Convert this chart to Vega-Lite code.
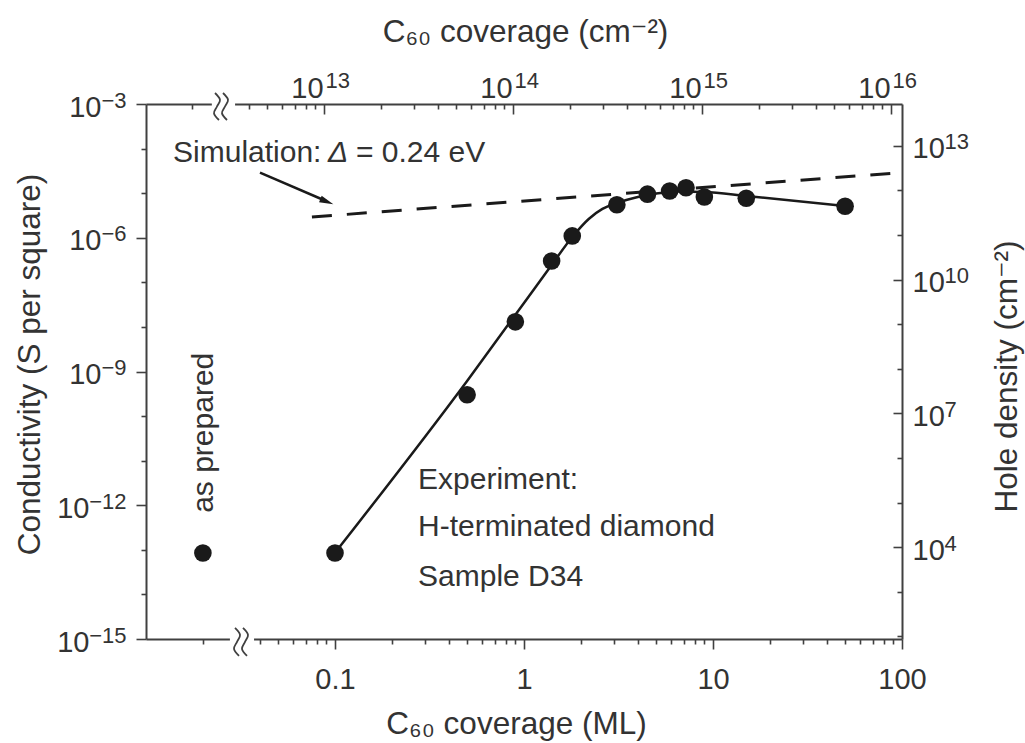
{
  "$schema": "https://vega.github.io/schema/vega-lite/v6.json",
  "width": 756,
  "height": 535,
  "autosize": {"type": "none"},
  "padding": {"left": 146, "top": 104, "right": 123, "bottom": 104},
  "background": "white",
  "config": {
    "view": {"stroke": null},
    "axis": {
      "grid": false,
      "zindex": 0,
      "domainColor": "#404040",
      "domainWidth": 2,
      "tickColor": "#404040",
      "tickWidth": 1.6,
      "labelFont": "Liberation Sans, DejaVu Sans, sans-serif",
      "labelFontSize": 29,
      "labelColor": "#333333",
      "titleFont": "Liberation Sans, DejaVu Sans, sans-serif",
      "titleFontSize": 31.5,
      "titleFontWeight": "normal",
      "titleColor": "#333333",
      "labelFlush": false,
      "labelOverlap": false,
      "labelBound": false
    },
    "text": {"font": "Liberation Sans, DejaVu Sans, sans-serif", "fontSize": 30, "color": "#333333"}
  },
  "datasets": {
    "pts": [
      {"ml": 0.02, "sigma": 8.5e-14},
      {"ml": 0.1, "sigma": 8.5e-14},
      {"ml": 0.5, "sigma": 3.0e-10},
      {"ml": 0.9, "sigma": 1.3e-8},
      {"ml": 1.4, "sigma": 3.0e-7},
      {"ml": 1.8, "sigma": 1.1e-6},
      {"ml": 3.1, "sigma": 5.5e-6},
      {"ml": 4.5, "sigma": 9.5e-6},
      {"ml": 5.9, "sigma": 1.12e-5},
      {"ml": 7.2, "sigma": 1.32e-5},
      {"ml": 9.0, "sigma": 8.2e-6},
      {"ml": 15, "sigma": 7.7e-6},
      {"ml": 50, "sigma": 5.1e-6}
    ],
    "fit": [
      {"ml": 0.1, "sigma": 8.57e-14},
      {"ml": 0.5, "sigma": 6.15e-10},
      {"ml": 1.0, "sigma": 3.45e-8},
      {"ml": 1.4, "sigma": 2.45e-7},
      {"ml": 1.8, "sigma": 1.04e-6},
      {"ml": 2.2, "sigma": 2.64e-6},
      {"ml": 2.6, "sigma": 4.43e-6},
      {"ml": 3.1, "sigma": 6.0e-6},
      {"ml": 4.0, "sigma": 8.2e-6},
      {"ml": 5.0, "sigma": 9.8e-6},
      {"ml": 6.5, "sigma": 1.09e-5},
      {"ml": 9.0, "sigma": 1.06e-5},
      {"ml": 15, "sigma": 8.65e-6},
      {"ml": 50, "sigma": 5.16e-6}
    ],
    "sim": [
      {"ml": 0.0755, "sigma": 2.92e-6},
      {"ml": 100, "sigma": 2.9e-5}
    ],
    "arrow": [
      {"ml": 0.0401, "sigma": 2.88e-5, "ml2": 0.0896, "sigma2": 6.68e-6}
    ],
    "arrowhead": [
      {"ml": 0.098, "sigma": 5.64e-6}
    ],
    "notes": [
      {"ml": 0.0139, "sigma": 5.0e-5, "t": "Simulation:"},
      {"ml": 0.1291, "sigma": 5.0e-5, "t": "= 0.24 eV"},
      {"ml": 0.275, "sigma": 2.33e-12, "t": "Experiment:"},
      {"ml": 0.275, "sigma": 2.06e-13, "t": "H-terminated diamond"},
      {"ml": 0.275, "sigma": 1.56e-14, "t": "Sample D34"}
    ],
    "delta": [
      {"ml": 0.0918, "sigma": 5.0e-5, "t": "Δ"}
    ],
    "asprep": [
      {"ml": 0.0226, "sigma": 6.76e-13, "t": "as prepared"}
    ],
    "brk": [
      {"ml": 0.0278, "ml2": 0.0373, "sigma": 6.31e-16, "sigma2": 1.259e-15},
      {"ml": 0.0223, "ml2": 0.0296, "sigma": 6.31e-4, "sigma2": 1.259e-3}
    ],
    "sq": [
      {"g": "b1", "i": 0, "ml": 0.02958, "sigma": 1.782e-15},
      {"g": "b1", "i": 1, "ml": 0.03144, "sigma": 1.242e-15},
      {"g": "b1", "i": 2, "ml": 0.03031, "sigma": 8.65e-16},
      {"g": "b1", "i": 3, "ml": 0.02922, "sigma": 6.03e-16},
      {"g": "b1", "i": 4, "ml": 0.03106, "sigma": 4.20e-16},
      {"g": "b2", "i": 0, "ml": 0.03260, "sigma": 1.782e-15},
      {"g": "b2", "i": 1, "ml": 0.03465, "sigma": 1.242e-15},
      {"g": "b2", "i": 2, "ml": 0.03341, "sigma": 8.65e-16},
      {"g": "b2", "i": 3, "ml": 0.03220, "sigma": 6.03e-16},
      {"g": "b2", "i": 4, "ml": 0.03423, "sigma": 4.20e-16},
      {"g": "t1", "i": 0, "ml": 0.02318, "sigma": 1.764e-3},
      {"g": "t1", "i": 1, "ml": 0.02463, "sigma": 1.245e-3},
      {"g": "t1", "i": 2, "ml": 0.02375, "sigma": 8.79e-4},
      {"g": "t1", "i": 3, "ml": 0.02290, "sigma": 6.20e-4},
      {"g": "t1", "i": 4, "ml": 0.02433, "sigma": 4.38e-4},
      {"g": "t2", "i": 0, "ml": 0.02555, "sigma": 1.764e-3},
      {"g": "t2", "i": 1, "ml": 0.02716, "sigma": 1.245e-3},
      {"g": "t2", "i": 2, "ml": 0.02618, "sigma": 8.79e-4},
      {"g": "t2", "i": 3, "ml": 0.02524, "sigma": 6.20e-4},
      {"g": "t2", "i": 4, "ml": 0.02683, "sigma": 4.38e-4}
    ],
    "topsc": [
      {"cm": 1.143e12},
      {"cm": 1.143e16}
    ],
    "rightsc": [
      {"holes": 87.1},
      {"holes": 8.71e13}
    ]
  },
  "layer": [
    {
      "resolve": {"axis": {"x": "independent", "y": "independent"}},
      "encoding": {
        "x": {"field": "ml", "type": "quantitative", "scale": {"type": "log", "domain": [0.01, 100], "nice": false}, "axis": null},
        "y": {"field": "sigma", "type": "quantitative", "scale": {"type": "log", "domain": [1e-15, 1e-3], "nice": false}, "axis": null}
      },
      "layer": [
        {
          "data": {"name": "pts"},
          "mark": {"type": "point", "opacity": 0},
          "encoding": {
            "x": {"field": "ml", "type": "quantitative", "scale": {"type": "log", "domain": [0.01, 100], "nice": false},
              "axis": {"orient": "bottom", "values": [0.1, 1, 10, 100], "labelExpr": "datum.value < 0.5 ? '0.1' : format(datum.value, 'd')",
                "tickSize": 10, "labelPadding": 39, "labelBaseline": "alphabetic",
                "title": "C₆₀ coverage (ML)", "titleX": 370, "titleY": 94, "titleBaseline": "alphabetic"}},
            "y": {"field": "sigma", "type": "quantitative", "scale": {"type": "log", "domain": [1e-15, 1e-3], "nice": false},
              "axis": {"orient": "left", "values": [1e-15, 1e-12, 1e-9, 1e-6, 1e-3], "labels": false,
                "tickSize": 10,
                "title": "Conductivity (S per square)", "titleAngle": 270, "titleX": -107, "titleY": 260, "titleBaseline": "alphabetic"}}
          }
        },
        {
          "data": {"name": "pts"},
          "mark": {"type": "point", "opacity": 0},
          "encoding": {
            "x": {"field": "ml", "type": "quantitative", "scale": {"type": "log", "domain": [0.01, 100], "nice": false},
              "axis": {"orient": "bottom", "values": [0.02, 0.03, 0.04, 0.05, 0.06, 0.07, 0.08, 0.09, 0.2, 0.3, 0.4, 0.5, 0.6, 0.7, 0.8, 0.9, 2, 3, 4, 5, 6, 7, 8, 9, 20, 30, 40, 50, 60, 70, 80, 90],
                "labels": false, "domain": false, "tickSize": 5, "title": null}},
            "y": {"field": "sigma", "type": "quantitative", "scale": {"type": "log", "domain": [1e-15, 1e-3], "nice": false},
              "axis": {"orient": "left", "values": [1e-14, 1e-13, 1e-11, 1e-10, 1e-8, 1e-7, 1e-5, 1e-4],
                "labels": false, "domain": false, "tickSize": 5, "title": null}}
          }
        },
        {
          "data": {"name": "pts"},
          "mark": {"type": "point", "opacity": 0},
          "encoding": {
            "y": {"field": "sigma", "type": "quantitative", "scale": {"type": "log", "domain": [1e-15, 1e-3], "nice": false},
              "axis": {"orient": "left", "values": [1e-9, 1e-6, 1e-3], "labelExpr": "'10'",
                "tickSize": 10, "tickOpacity": 0, "labelPadding": 35, "labelBaseline": "alphabetic", "labelOffset": 12,
                "domain": false, "title": null}}
          }
        },
        {
          "data": {"name": "pts"},
          "mark": {"type": "point", "opacity": 0},
          "encoding": {
            "y": {"field": "sigma", "type": "quantitative", "scale": {"type": "log", "domain": [1e-15, 1e-3], "nice": false},
              "axis": {"orient": "left", "values": [1e-15, 1e-12], "labelExpr": "'10'",
                "tickSize": 10, "tickOpacity": 0, "labelPadding": 47, "labelBaseline": "alphabetic", "labelOffset": 12,
                "domain": false, "title": null}}
          }
        },
        {
          "data": {"name": "pts"},
          "mark": {"type": "point", "opacity": 0},
          "encoding": {
            "y": {"field": "sigma", "type": "quantitative", "scale": {"type": "log", "domain": [1e-15, 1e-3], "nice": false},
              "axis": {"orient": "left", "values": [1e-15, 1e-12, 1e-9, 1e-6, 1e-3], "labelExpr": "'−' + (-round(log(datum.value)/LN10))",
                "labelFontSize": 22,
                "tickSize": 10, "tickOpacity": 0, "labelPadding": 10, "labelBaseline": "alphabetic", "labelOffset": 3,
                "domain": false, "title": null}}
          }
        },
        {
          "data": {"name": "fit"},
          "mark": {"type": "line", "color": "#1a1a1a", "strokeWidth": 2.5, "interpolate": "monotone"}
        },
        {
          "data": {"name": "sim"},
          "mark": {"type": "line", "color": "#1a1a1a", "strokeWidth": 3, "strokeDash": [20, 15]}
        },
        {
          "data": {"name": "arrow"},
          "mark": {"type": "rule", "color": "#1a1a1a", "strokeWidth": 2.5},
          "encoding": {
            "x2": {"field": "ml2"},
            "y2": {"field": "sigma2"}
          }
        },
        {
          "data": {"name": "arrowhead"},
          "mark": {"type": "point", "shape": "M0,0L-2,-0.5L-2,0.5Z", "size": 196, "filled": true, "color": "#1a1a1a", "opacity": 1, "angle": 22}
        },
        {
          "data": {"name": "pts"},
          "mark": {"type": "circle", "size": 310, "color": "#1a1a1a", "opacity": 1}
        },
        {
          "data": {"name": "notes"},
          "mark": {"type": "text", "align": "left", "baseline": "alphabetic"},
          "encoding": {"text": {"field": "t"}}
        },
        {
          "data": {"name": "delta"},
          "mark": {"type": "text", "align": "left", "baseline": "alphabetic", "fontStyle": "italic"},
          "encoding": {"text": {"field": "t"}}
        },
        {
          "data": {"name": "asprep"},
          "mark": {"type": "text", "align": "left", "baseline": "alphabetic", "angle": 270},
          "encoding": {"text": {"field": "t"}}
        },
        {
          "data": {"name": "brk"},
          "mark": {"type": "rect", "color": "white", "opacity": 1},
          "encoding": {
            "x2": {"field": "ml2"},
            "y2": {"field": "sigma2"}
          }
        },
        {
          "data": {"name": "sq"},
          "mark": {"type": "line", "interpolate": "cardinal", "color": "#404040", "strokeWidth": 1.8},
          "encoding": {
            "detail": {"field": "g"},
            "order": {"field": "i"}
          }
        }
      ]
    },
    {
      "data": {"name": "topsc"},
      "mark": {"type": "point", "opacity": 0},
      "encoding": {
        "x": {"field": "cm", "type": "quantitative", "scale": {"type": "log", "domain": [1.143e12, 1.143e16], "nice": false},
          "axis": {"orient": "top", "values": [1e13, 1e14, 1e15, 1e16], "labels": false,
            "tickSize": -10,
            "title": "C₆₀ coverage (cm⁻²)", "titleX": 379, "titleY": -63, "titleBaseline": "alphabetic"}}
      }
    },
    {
      "data": {"name": "topsc"},
      "mark": {"type": "point", "opacity": 0},
      "encoding": {
        "x": {"field": "cm", "type": "quantitative", "scale": {"type": "log", "domain": [1.143e12, 1.143e16], "nice": false},
          "axis": {"orient": "top", "values": [1e13, 1e14, 1e15, 1e16], "labelExpr": "'10'", "labelAlign": "right", "labelOffset": -1,
            "tickSize": -10, "tickOpacity": 0, "labelPadding": 17, "labelBaseline": "alphabetic", "domain": false, "title": null}}
      }
    },
    {
      "data": {"name": "topsc"},
      "mark": {"type": "point", "opacity": 0},
      "encoding": {
        "x": {"field": "cm", "type": "quantitative", "scale": {"type": "log", "domain": [1.143e12, 1.143e16], "nice": false},
          "axis": {"orient": "top", "values": [1e13, 1e14, 1e15, 1e16], "labelExpr": "'' + round(log(datum.value)/LN10)", "labelAlign": "left", "labelOffset": 1,
            "labelFontSize": 22,
            "tickSize": -10, "tickOpacity": 0, "labelPadding": 27, "labelBaseline": "alphabetic", "domain": false, "title": null}}
      }
    },
    {
      "data": {"name": "topsc"},
      "mark": {"type": "point", "opacity": 0},
      "encoding": {
        "x": {"field": "cm", "type": "quantitative", "scale": {"type": "log", "domain": [1.143e12, 1.143e16], "nice": false},
          "axis": {"orient": "top", "values": [2e12, 3e12, 4e12, 5e12, 6e12, 7e12, 8e12, 9e12, 2e13, 3e13, 4e13, 5e13, 6e13, 7e13, 8e13, 9e13, 2e14, 3e14, 4e14, 5e14, 6e14, 7e14, 8e14, 9e14, 2e15, 3e15, 4e15, 5e15, 6e15, 7e15, 8e15, 9e15],
            "labels": false, "domain": false, "tickSize": -5, "title": null}}
      }
    },
    {
      "data": {"name": "rightsc"},
      "mark": {"type": "point", "opacity": 0},
      "encoding": {
        "y": {"field": "holes", "type": "quantitative", "scale": {"type": "log", "domain": [87.1, 8.71e13], "nice": false},
          "axis": {"orient": "right", "values": [1e4, 1e7, 1e10, 1e13], "labels": false,
            "tickSize": -9,
            "title": "Hole density (cm⁻²)", "titleAngle": 270, "titleX": 114, "titleY": 272, "titleBaseline": "alphabetic"}}
      }
    },
    {
      "data": {"name": "rightsc"},
      "mark": {"type": "point", "opacity": 0},
      "encoding": {
        "y": {"field": "holes", "type": "quantitative", "scale": {"type": "log", "domain": [87.1, 8.71e13], "nice": false},
          "axis": {"orient": "right", "values": [1e4, 1e7, 1e10, 1e13], "labelExpr": "'10'",
            "tickSize": -9, "tickOpacity": 0, "labelPadding": 19, "labelBaseline": "alphabetic", "labelOffset": 12,
            "domain": false, "title": null}}
      }
    },
    {
      "data": {"name": "rightsc"},
      "mark": {"type": "point", "opacity": 0},
      "encoding": {
        "y": {"field": "holes", "type": "quantitative", "scale": {"type": "log", "domain": [87.1, 8.71e13], "nice": false},
          "axis": {"orient": "right", "values": [1e4, 1e7, 1e10, 1e13], "labelExpr": "'' + round(log(datum.value)/LN10)",
            "labelFontSize": 22,
            "tickSize": -9, "tickOpacity": 0, "labelPadding": 51, "labelBaseline": "alphabetic", "labelOffset": 3,
            "domain": false, "title": null}}
      }
    },
    {
      "data": {"name": "rightsc"},
      "mark": {"type": "point", "opacity": 0},
      "encoding": {
        "y": {"field": "holes", "type": "quantitative", "scale": {"type": "log", "domain": [87.1, 8.71e13], "nice": false},
          "axis": {"orient": "right", "values": [1e2, 1e3, 1e5, 1e6, 1e8, 1e9, 1e11, 1e12],
            "labels": false, "domain": false, "tickSize": -5, "title": null}}
      }
    }
  ],
  "resolve": {"scale": {"x": "independent", "y": "independent"}, "axis": {"x": "independent", "y": "independent"}}
}
